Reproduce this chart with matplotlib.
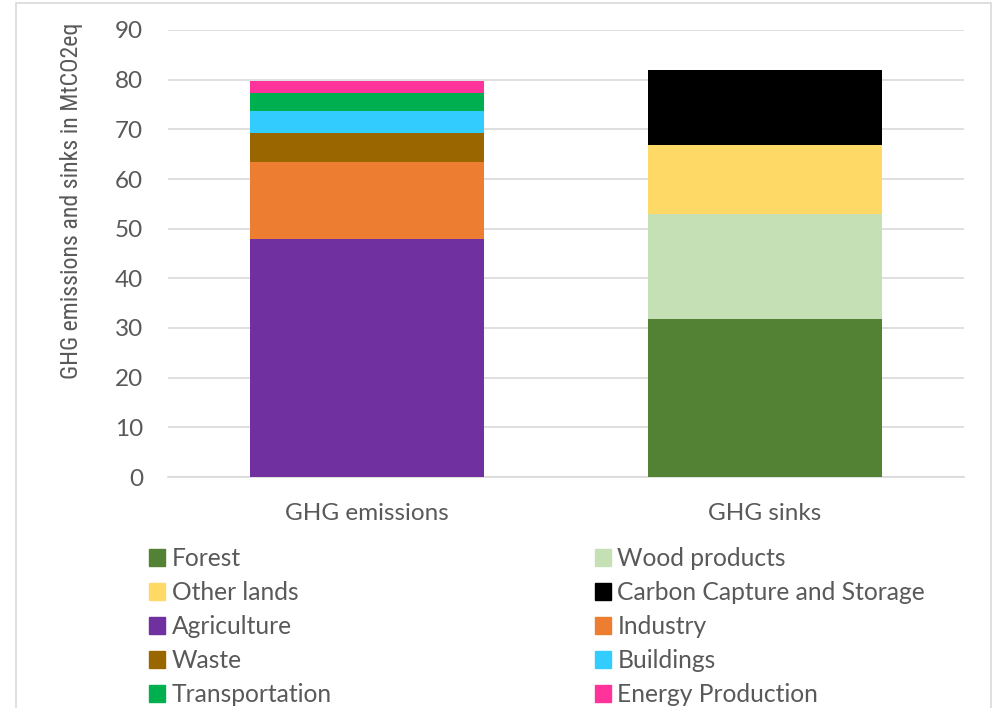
import matplotlib
matplotlib.use("Agg")
import matplotlib.pyplot as plt
from matplotlib.patches import Rectangle, Patch

categories = ["GHG emissions", "GHG sinks"]
series_names = ["Forest", "Wood products", "Other lands", "Carbon Capture and Storage",
                "Agriculture", "Industry", "Waste", "Buildings", "Transportation", "Energy Production"]
emissions = [0, 0, 0, 0, 47.9, 15.5, 5.9, 4.3, 3.7, 2.4]
sinks = [31.8, 21.2, 13.8, 15.1, 0, 0, 0, 0, 0, 0]
colors = ["#548235", "#C5E0B4", "#FFD966", "#000000",
          "#7030A0", "#ED7D31", "#996600", "#33CCFF", "#00B050", "#FF3399"]
yticks = [0, 10, 20, 30, 40, 50, 60, 70, 80, 90]

plt.rcParams['font.family'] = ['Lato', 'DejaVu Sans']
txt = "#595959"

fig = plt.figure(figsize=(9.96, 7.08), dpi=100)
W, H = 996, 708
ax = fig.add_axes([168 / W, 1 - 477 / H, (964 - 168) / W, (477 - 30) / H])

x = [0, 1]
bottoms = [0.0, 0.0]
handles = []
for name, e, s, c in zip(series_names, emissions, sinks, colors):
    vals = [e, s]
    ax.bar(x, vals, width=0.588, bottom=bottoms, color=c, label=name, zorder=3)
    bottoms = [b + v for b, v in zip(bottoms, vals)]
    handles.append(Patch(color=c, label=name))

ax.set_xlim(-0.5, 1.5)
ax.set_ylim(0, 90)
ax.set_yticks(yticks)
ax.set_xticks(x)
ax.set_xticklabels(categories)
ax.yaxis.grid(True, color="#D9D9D9", linewidth=1.2, zorder=0)
for sp in ax.spines.values():
    sp.set_visible(False)
ax.spines['bottom'].set_visible(True)
ax.spines['bottom'].set_color("#D9D9D9")
ax.spines['bottom'].set_linewidth(1.2)
ax.tick_params(axis='both', length=0, colors=txt, labelsize=17.5)
ax.tick_params(axis='y', pad=18)
ax.tick_params(axis='x', pad=18.6)
ax.set_ylabel("GHG emissions and sinks in MtCO2eq", fontsize=17.2, color=txt,
              family=['Roboto Condensed', 'Lato', 'DejaVu Sans'], va='center')
ax.yaxis.set_label_coords((72 - 168) / 796, (477 - 201) / 447)

# legend: row-wise ordering for 2 columns
order = [0, 2, 4, 6, 8, 1, 3, 5, 7, 9]
leg = fig.legend([handles[i] for i in order], [series_names[i] for i in order],
                 ncol=2, loc="upper left", bbox_to_anchor=(149 / W, 1 - 547 / H),
                 frameon=False, fontsize=17.7, handlelength=0.65, handleheight=0.65,
                 handletextpad=0.28, labelspacing=0.45, columnspacing=10.68,
                 borderpad=0, borderaxespad=0, labelcolor=txt)

fig.patches.append(Rectangle((16 / W, -0.1), (991 - 16) / W, 1.1 - 3 / H,
                             transform=fig.transFigure, fill=False,
                             edgecolor="#D9D9D9", linewidth=1.2))

fig.savefig("out.png", dpi=100)
